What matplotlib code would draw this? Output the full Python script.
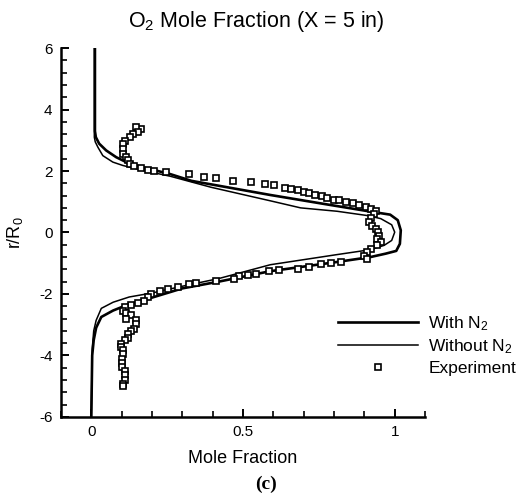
import matplotlib
matplotlib.use("Agg")
import matplotlib.pyplot as plt
from matplotlib.ticker import MultipleLocator, FixedLocator

plt.rcParams['font.family'] = ['Liberation Sans', 'DejaVu Sans']
plt.rcParams['mathtext.fontset'] = 'custom'
plt.rcParams['mathtext.rm'] = 'Liberation Sans'
plt.rcParams['mathtext.it'] = 'Liberation Sans:italic'
plt.rcParams['axes.unicode_minus'] = False

# ---- data ----
with_x = [0.012, 0.012, 0.015, 0.026, 0.049, 0.082, 0.115, 0.17, 0.26, 0.33, 0.59, 0.76,
          0.92, 0.985, 1.01, 1.02, 1.017, 1.005, 0.97, 0.92, 0.81, 0.59, 0.42, 0.30, 0.20,
          0.115, 0.072, 0.033, 0.016, 0.008, 0.003, 0.0]
with_y = [6.0, 3.3, 3.1, 2.89, 2.67, 2.45, 2.29, 2.12, 1.9, 1.68, 1.22, 0.94,
          0.68, 0.58, 0.4, 0.07, -0.37, -0.6, -0.69, -0.8, -0.96, -1.26, -1.6, -1.82, -2.12,
          -2.37, -2.54, -2.75, -3.1, -3.5, -4.0, -6.0]

without_x = [0.01, 0.01, 0.013, 0.022, 0.038, 0.071, 0.104, 0.17, 0.26, 0.395, 0.59, 0.69,
             0.81, 0.91, 0.954, 0.99, 1.0, 0.99, 0.965, 0.92, 0.81, 0.59, 0.42, 0.30, 0.20,
             0.125, 0.072, 0.033, 0.016, 0.008, 0.003, 0.0]
without_y = [6.0, 3.1, 2.95, 2.77, 2.5, 2.29, 2.18, 2.02, 1.83, 1.47, 1.03, 0.8,
             0.69, 0.55, 0.45, 0.25, 0.01, -0.26, -0.42, -0.56, -0.72, -1.05, -1.5, -1.75, -1.97,
             -2.1, -2.27, -2.47, -2.86, -3.2, -3.8, -6.0]

exp_x = [0.164, 0.148, 0.154, 0.137, 0.126, 0.11, 0.104, 0.106, 0.106, 0.113, 0.12, 0.126,
         0.142, 0.164, 0.186, 0.208, 0.247, 0.323, 0.373, 0.411, 0.466, 0.526, 0.572, 0.603,
         0.638, 0.658, 0.68, 0.702, 0.718, 0.737, 0.759, 0.778, 0.8, 0.817, 0.839, 0.861,
         0.883, 0.905, 0.921, 0.9375, 0.932, 0.921, 0.916, 0.926, 0.9375, 0.945, 0.948, 0.943,
         0.954, 0.941, 0.921, 0.91, 0.899, 0.91, 0.822, 0.79, 0.757, 0.718, 0.68, 0.62,
         0.587, 0.543, 0.515, 0.488, 0.471, 0.411, 0.345, 0.323, 0.285, 0.252, 0.225, 0.197,
         0.186, 0.175, 0.154, 0.132, 0.11, 0.104, 0.115, 0.13, 0.115, 0.148, 0.148, 0.142,
         0.13, 0.12, 0.12, 0.11, 0.099, 0.099, 0.104, 0.104, 0.101, 0.101, 0.101, 0.11,
         0.11, 0.11, 0.104, 0.104]
exp_y = [3.37, 3.43, 3.26, 3.21, 3.1, 2.99, 2.89, 2.72, 2.56, 2.47, 2.36, 2.23,
         2.15, 2.09, 2.04, 2.0, 1.96, 1.91, 1.82, 1.78, 1.69, 1.63, 1.57, 1.53,
         1.45, 1.42, 1.37, 1.32, 1.28, 1.23, 1.18, 1.13, 1.07, 1.05, 1.0, 0.95,
         0.9, 0.84, 0.77, 0.69, 0.59, 0.48, 0.34, 0.2, 0.12, 0.01, -0.1, -0.2,
         -0.31, -0.42, -0.53, -0.64, -0.75, -0.86, -0.96, -0.99, -1.04, -1.13, -1.18, -1.21,
         -1.26, -1.34, -1.4, -1.43, -1.51, -1.59, -1.65, -1.69, -1.76, -1.83, -1.91, -1.99,
         -2.1, -2.24, -2.3, -2.36, -2.43, -2.54, -2.62, -2.7, -2.81, -2.86, -2.99, -3.13,
         -3.21, -3.29, -3.42, -3.51, -3.62, -3.73, -3.84, -3.97, -4.11, -4.25, -4.38, -4.51,
         -4.65, -4.79, -4.92, -5.01]

x_ticks = [0, 0.5, 1]
x_tick_labels = ["0", "0.5", "1"]
y_ticks = [-6, -4, -2, 0, 2, 4, 6]
y_tick_labels = ["-6", "-4", "-2", "0", "2", "4", "6"]

# ---- figure ----
fig = plt.figure(figsize=(5.30, 5.01), dpi=100)
ax = fig.add_axes([0.115, 0.168, 0.687, 0.736])

ax.plot(with_x, with_y, color='black', lw=1.9, label='With N$_2$')
ax.plot(without_x, without_y, color='black', lw=1.1, label='Without N$_2$')
ax.plot(exp_x, exp_y, ls='none', marker='s', ms=4.3, mfc='white', mec='black', mew=1.2,
        label='Experiment')

ax.set_xlim(-0.1, 1.1)
ax.set_ylim(-6, 6)
ax.xaxis.set_major_locator(FixedLocator(x_ticks))
ax.set_xticklabels(x_tick_labels)
ax.yaxis.set_major_locator(FixedLocator(y_ticks))
ax.set_yticklabels(y_tick_labels)
ax.xaxis.set_minor_locator(MultipleLocator(0.1))
ax.yaxis.set_minor_locator(MultipleLocator(0.4))

for s in ['top', 'right']:
    ax.spines[s].set_visible(False)
for s in ['left', 'bottom']:
    ax.spines[s].set_linewidth(1.8)

ax.tick_params(which='major', direction='in', length=6, width=1.4, labelsize=11, pad=6)
ax.tick_params(which='minor', direction='in', length=4, width=1.2)

ax.set_xlabel('Mole Fraction', fontsize=13, labelpad=8)
ax.set_ylabel('r/R$_0$', fontsize=13, labelpad=10)

fig.text(256 / 530, 1 - 21 / 501, 'O$_2$ Mole Fraction (X = 5 in)', ha='center', va='center',
         fontsize=15.5)
fig.text(266 / 530, 1 - 484 / 501, '(c)', ha='center', va='center', fontsize=14,
         family=['Liberation Serif'], weight='bold')

leg = ax.legend(loc='upper left', bbox_to_anchor=(0.742, 0.297), frameon=False, fontsize=12.5,
                handlelength=4.6, handletextpad=0.6, labelspacing=0.26, numpoints=1,
                borderaxespad=0)

fig.savefig('out.png', dpi=100)
